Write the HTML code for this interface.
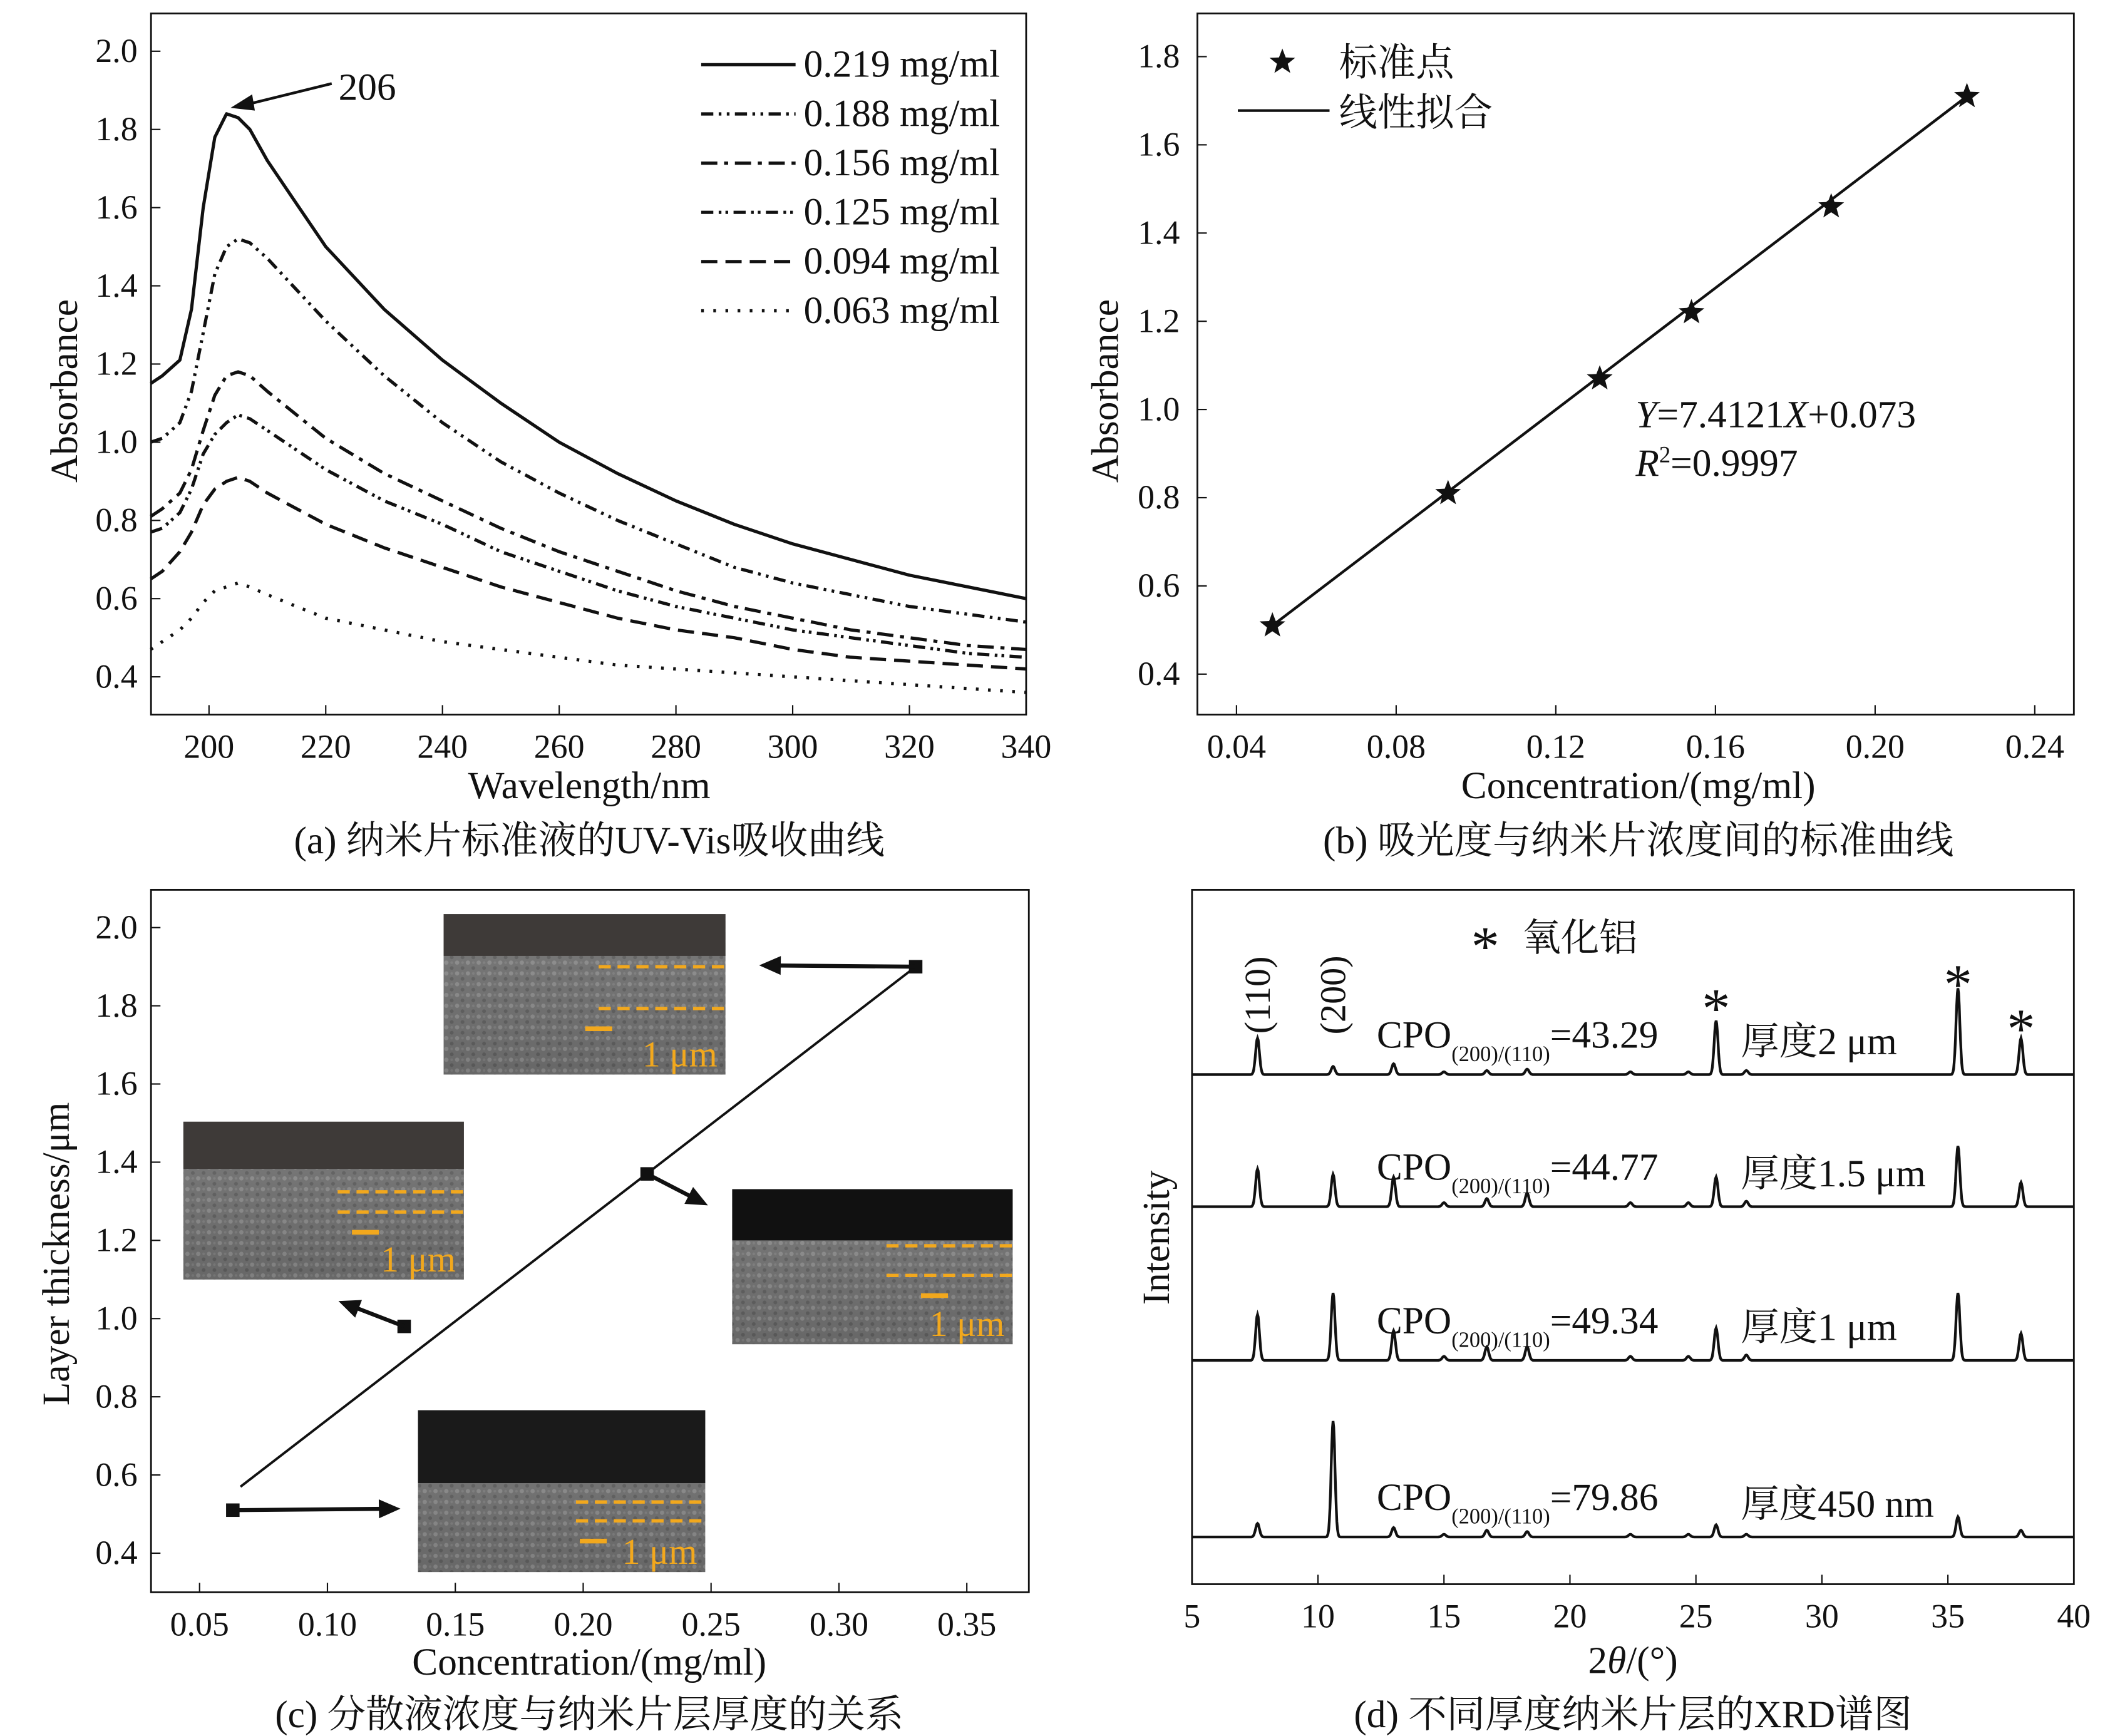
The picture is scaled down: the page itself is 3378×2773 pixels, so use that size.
<!DOCTYPE html>
<html><head><meta charset="utf-8">
<style>
html,body{margin:0;padding:0;background:#fff}
svg{display:block}
text{font-family:"Liberation Serif","Noto Serif CJK SC",serif;fill:#111}
</style></head>
<body>
<svg id="fig" xmlns="http://www.w3.org/2000/svg" width="3378" height="2773" viewBox="-1 0 1568.5 1287.6" preserveAspectRatio="none">
<defs>
<linearGradient id="semG" x1="0" y1="0" x2="0" y2="1">
<stop offset="0" stop-color="#8a8a8a"/><stop offset="1" stop-color="#5e5e5e"/></linearGradient>
<pattern id="tex" width="8" height="8" patternUnits="userSpaceOnUse">
<rect width="8" height="8" fill="#6f6f6f"/><circle cx="2" cy="2" r="1.6" fill="#9a9a9a"/><circle cx="6" cy="6" r="1.4" fill="#505050"/><circle cx="6" cy="2" r="1" fill="#858585"/></pattern>
</defs>
<g id="pa"></g>
<g id="pb"></g>
<g id="pc"></g>
<g id="pd"></g>
</svg>
<script>
// ---------- Panel (a) data ----------
const aWave = [190,192,195,197,199,201,203,205,207,210,215,220,230,240,250,260,270,280,290,300,310,320,330,340];
const aLabels = ["0.219 mg/ml","0.188 mg/ml","0.156 mg/ml","0.125 mg/ml","0.094 mg/ml","0.063 mg/ml"];
const aS1 = [1.15,1.17,1.21,1.34,1.60,1.78,1.84,1.83,1.80,1.72,1.61,1.50,1.34,1.21,1.10,1.00,0.92,0.85,0.79,0.74,0.70,0.66,0.63,0.60];
const aS2 = [1.00,1.01,1.05,1.13,1.28,1.43,1.50,1.52,1.51,1.47,1.39,1.31,1.17,1.05,0.95,0.87,0.80,0.74,0.68,0.64,0.61,0.58,0.56,0.54];
const aS3 = [0.81,0.83,0.87,0.93,1.03,1.12,1.17,1.18,1.17,1.13,1.07,1.01,0.92,0.85,0.78,0.72,0.67,0.62,0.58,0.55,0.52,0.50,0.48,0.47];
const aS4 = [0.77,0.78,0.82,0.88,0.97,1.02,1.05,1.07,1.06,1.03,0.98,0.93,0.85,0.79,0.72,0.67,0.62,0.58,0.55,0.52,0.50,0.48,0.46,0.45];
const aS5 = [0.65,0.67,0.72,0.77,0.84,0.88,0.90,0.91,0.90,0.87,0.83,0.79,0.73,0.68,0.63,0.59,0.55,0.52,0.50,0.47,0.45,0.44,0.43,0.42];
const aS6 = [0.47,0.49,0.52,0.55,0.59,0.62,0.63,0.64,0.63,0.61,0.58,0.55,0.52,0.49,0.47,0.45,0.43,0.42,0.41,0.40,0.39,0.38,0.37,0.36];
const aXTicks = [200,220,240,260,280,300,320,340];
const aYTicks = [0.4,0.6,0.8,1.0,1.2,1.4,1.6,1.8,2.0];
// ---------- Panel (b) data ----------
const bConc = [0.049,0.093,0.131,0.154,0.189,0.223];
const bAbs = [0.51,0.81,1.07,1.22,1.46,1.71];
const bXTicks = [0.04,0.08,0.12,0.16,0.20,0.24];
const bYTicks = [0.4,0.6,0.8,1.0,1.2,1.4,1.6,1.8];
// ---------- Panel (c) data ----------
const cConc = [0.063,0.130,0.225,0.330];
const cThick = [0.51,0.98,1.37,1.90];
const cLine = [[0.066,0.57],[0.330,1.90]];
const cXTicks = [0.05,0.10,0.15,0.20,0.25,0.30,0.35];
const cYTicks = [0.4,0.6,0.8,1.0,1.2,1.4,1.6,1.8,2.0];
// ---------- Panel (d) data ----------
const dPeakPos = [7.6,10.6,13.0,15.0,16.7,18.3,22.4,24.7,25.8,27.0,35.4,37.9];
const dH1 = [27,6,8,2,3,4,2,2,40,3,64,27];
const dH2 = [28,24,22,3,6,10,3,3,22,4,45,18];
const dH3 = [34,50,22,3,10,10,3,3,24,4,50,20];
const dH4 = [10,86,7,2,5,4,2,2,9,2,15,5];
const dCPO = ["43.29","44.77","49.34","79.86"];
const dThickLbl = ["厚度2 μm","厚度1.5 μm","厚度1 μm","厚度450 nm"];
const dXTicks = [5,10,15,20,25,30,35,40];

const FT=25, FL=28.5, FC=28.5;
const NS="http://www.w3.org/2000/svg";
function mk(parent,tag,attrs,txt){const e=document.createElementNS(NS,tag);for(const k in attrs)e.setAttribute(k,attrs[k]);if(txt!==undefined)e.textContent=txt;parent.appendChild(e);return e;}
function frame(g,x0,y0,x1,y1){const r=mk(g,'rect',{x:x0,y:y0,width:x1-x0,height:y1-y0,fill:'none',stroke:'#111','stroke-width':1.3});

}

// ===== Panel A =====
(function(){
const g=document.getElementById('pa');
const X=v=>154+(v-200)*(760-154)/140, Y=v=>38+(2.0-v)*(502-38)/1.6;
frame(g,111,10,760,530);
aXTicks.forEach(t=>{const l=mk(g,'line',{x1:X(t),x2:X(t),y1:530,y2:523,stroke:'#111'});


const tx=mk(g,'text',{x:X(t),y:562,'font-size':FT,'text-anchor':'middle'},t);

});
aYTicks.forEach(t=>{const l=mk(g,'line',{x1:111,x2:118,y1:Y(t),y2:Y(t),stroke:'#111'});


const tx=mk(g,'text',{x:101,y:Y(t)+8,'font-size':FT,'text-anchor':'end'},t.toFixed(1));

});
const xt=mk(g,'text',{x:436,y:592,'font-size':FL,'text-anchor':'middle'},'Wavelength/nm');


const yt=mk(g,'text',{x:56,y:290,'font-size':FL,'text-anchor':'middle',transform:'rotate(-90 56 290)'},'Absorbance');


const series=[aS1,aS2,aS3,aS4,aS5,aS6];
const dashes=['none','9 4 2 4 2 4','12 5 3 5','9 4 2 3 2 4','12 6','2 7'];
series.forEach((s,i)=>{
 const pts=aWave.map((w,j)=>X(w).toFixed(1)+','+Y(s[j]).toFixed(1)).join(' ');
 const p=mk(g,'polyline',{points:pts,fill:'none',stroke:'#111','stroke-width':2.4,'stroke-dasharray':dashes[i],'stroke-linejoin':'round'});
 
 
 const ly=48+i*36.5;
 const ll=mk(g,'line',{x1:519,x2:589,y1:ly,y2:ly,stroke:'#111','stroke-width':2.4,'stroke-dasharray':dashes[i]});
 
 
 const lt=mk(g,'text',{x:595,y:ly+9,'font-size':FL},aLabels[i]);
 
 
});
const ar=mk(g,'line',{x1:245,y1:62,x2:180,y2:78,stroke:'#111','stroke-width':2});


const ah=mk(g,'polygon',{points:'170,80 186,70 188,82',fill:'#111'});


const pl=mk(g,'text',{x:250,y:74,'font-size':FL},'206');


const cap=mk(g,'text',{x:436,y:633,'font-size':FC,'text-anchor':'middle'},'(a) 纳米片标准液的UV-Vis吸收曲线');


})();

function star(g,cx,cy,r){let p=[];for(let i=0;i<10;i++){const a=-Math.PI/2+i*Math.PI/5,rr=i%2?r*0.42:r;p.push((cx+rr*Math.cos(a)).toFixed(1)+','+(cy+rr*Math.sin(a)).toFixed(1));}
return mk(g,'polygon',{points:p.join(' '),fill:'#111'});}

// ===== Panel B =====
(function(){
const g=document.getElementById('pb');
const X=v=>916+(v-0.04)*(1508-916)/0.2, Y=v=>42+(1.8-v)*(500-42)/1.4;
frame(g,887,10,1537,530);
bXTicks.forEach(t=>{const l=mk(g,'line',{x1:X(t),x2:X(t),y1:530,y2:523,stroke:'#111'});


const tx=mk(g,'text',{x:X(t),y:562,'font-size':FT,'text-anchor':'middle'},t.toFixed(2));

});
bYTicks.forEach(t=>{const l=mk(g,'line',{x1:887,x2:894,y1:Y(t),y2:Y(t),stroke:'#111'});


const tx=mk(g,'text',{x:874,y:Y(t)+8,'font-size':FT,'text-anchor':'end'},t.toFixed(1));

});
const xt=mk(g,'text',{x:1214,y:592,'font-size':FL,'text-anchor':'middle'},'Concentration/(mg/ml)');


const yt=mk(g,'text',{x:828,y:290,'font-size':FL,'text-anchor':'middle',transform:'rotate(-90 828 290)'},'Absorbance');


const n=bConc.length;
const fl=mk(g,'line',{x1:X(bConc[0]),y1:Y(bAbs[0]),x2:X(bConc[n-1]),y2:Y(bAbs[n-1]),stroke:'#111','stroke-width':2});


bConc.forEach((c,i)=>{const s=star(g,X(c),Y(bAbs[i]),10);

});
const ls=star(g,950,46,10);


const l1=mk(g,'text',{x:992,y:56,'font-size':FL},'标准点');


const ll=mk(g,'line',{x1:917,x2:985,y1:82,y2:82,stroke:'#111','stroke-width':2});


const l2=mk(g,'text',{x:992,y:93,'font-size':FL},'线性拟合');


const eq=mk(g,'text',{x:1212,y:317,'font-size':FL});
eq.innerHTML='<tspan font-style="italic">Y</tspan>=7.4121<tspan font-style="italic">X</tspan>+0.073';


const r2=mk(g,'text',{x:1212,y:353,'font-size':FL});
r2.innerHTML='<tspan font-style="italic">R</tspan><tspan font-size="17" dy="-10">2</tspan><tspan dy="10">=0.9997</tspan>';


const cap=mk(g,'text',{x:1214,y:633,'font-size':FC,'text-anchor':'middle'},'(b) 吸光度与纳米片浓度间的标准曲线');


})();

// ===== Panel C =====
function sem(g,x,y,w,h,darkH,dashTop,dashBot,scaleX,name){
 const gg=mk(g,'g',{});
 
 
 mk(gg,'rect',{x:x,y:y,width:w,height:h,fill:'url(#tex)'});
 mk(gg,'rect',{x:x,y:y,width:w,height:h,fill:'url(#semG)',opacity:0.45});
 mk(gg,'rect',{x:x,y:y,width:w,height:darkH.h,fill:darkH.c});
 [dashTop,dashBot].forEach(d=>mk(gg,'line',{x1:x+w*0.55,x2:x+w,y1:y+d,y2:y+d,stroke:'#f2a81d','stroke-width':2.5,'stroke-dasharray':'9 5'}));
 mk(gg,'line',{x1:x+scaleX,x2:x+scaleX+20,y1:y+dashBot+15,y2:y+dashBot+15,stroke:'#f2a81d','stroke-width':3.5});
 mk(gg,'text',{x:x+w-6,y:y+h-6,'font-size':27,'text-anchor':'end',style:'fill:#f2a81d'},'1 μm');
}
(function(){
const g=document.getElementById('pc');
const X=v=>147+(v-0.05)*(716-147)/0.3, Y=v=>688+(2.0-v)*(1152-688)/1.6;
frame(g,111,660,762,1181);
cXTicks.forEach(t=>{const l=mk(g,'line',{x1:X(t),x2:X(t),y1:1181,y2:1174,stroke:'#111'});


const tx=mk(g,'text',{x:X(t),y:1213,'font-size':FT,'text-anchor':'middle'},t.toFixed(2));

});
cYTicks.forEach(t=>{const l=mk(g,'line',{x1:111,x2:118,y1:Y(t),y2:Y(t),stroke:'#111'});


const tx=mk(g,'text',{x:101,y:Y(t)+8,'font-size':FT,'text-anchor':'end'},t.toFixed(1));

});
const xt=mk(g,'text',{x:436,y:1242,'font-size':FL,'text-anchor':'middle'},'Concentration/(mg/ml)');


const yt=mk(g,'text',{x:50,y:930,'font-size':FL,'text-anchor':'middle',transform:'rotate(-90 50 930)'},'Layer thickness/μm');


const ln=mk(g,'line',{x1:X(cLine[0][0]),y1:Y(cLine[0][1]),x2:X(cLine[1][0]),y2:Y(cLine[1][1]),stroke:'#111','stroke-width':1.8});


sem(g,328,678,209,119,{h:31,c:'#3e3a38'},39,70,105,'sem-inset-2um');
sem(g,135,832,208,117,{h:35,c:'#3e3a38'},52,67,125,'sem-inset-1um');
sem(g,542,882,208,115,{h:38,c:'#111'},42,64,140,'sem-inset-1-5um');
sem(g,309,1046,213,120,{h:54,c:'#1a1a1a'},68,82,120,'sem-inset-450nm');
cConc.forEach((c,i)=>{const s=mk(g,'rect',{x:X(c)-5,y:Y(cThick[i])-5,width:10,height:10,fill:'#111'});

});
const arrows=[[0,296,1119],[1,250,965],[2,524,894],[3,562,716]];
arrows.forEach(a=>{const x0=X(cConc[a[0]]),y0=Y(cThick[a[0]]),x1=a[1],y1=a[2];
 const ang=Math.atan2(y1-y0,x1-x0),L=16;
 const l=mk(g,'line',{x1:x0,y1:y0,x2:x1-L*0.8*Math.cos(ang),y2:y1-L*0.8*Math.sin(ang),stroke:'#111','stroke-width':3});
 
 
 const p=[x1,y1,x1-L*Math.cos(ang)+7*Math.sin(ang),y1-L*Math.sin(ang)-7*Math.cos(ang),x1-L*Math.cos(ang)-7*Math.sin(ang),y1-L*Math.sin(ang)+7*Math.cos(ang)];
 const h=mk(g,'polygon',{points:p.map(v=>v.toFixed(1)).join(' '),fill:'#111'});
 
 });
const cap=mk(g,'text',{x:436,y:1281,'font-size':FC,'text-anchor':'middle'},'(c) 分散液浓度与纳米片层厚度的关系');


})();

// ===== Panel D =====
(function(){
const g=document.getElementById('pd');
const X=v=>883+(v-5)*(1537-883)/35;
frame(g,883,660,1537,1175);
dXTicks.forEach(t=>{const l=mk(g,'line',{x1:X(t),x2:X(t),y1:1175,y2:1168,stroke:'#111'});


const tx=mk(g,'text',{x:X(t),y:1207,'font-size':FT,'text-anchor':'middle'},t);

});
const xt=mk(g,'text',{x:1210,y:1241,'font-size':FL,'text-anchor':'middle'});
xt.innerHTML='2<tspan font-style="italic">θ</tspan>/(°)';


const yt=mk(g,'text',{x:866,y:918,'font-size':FL,'text-anchor':'middle',transform:'rotate(-90 866 918)'},'Intensity');


const bases=[797,895,1009,1140];
[dH1,dH2,dH3,dH4].forEach((H,k)=>{
 let pts=[];
 for(let t=5;t<=40.001;t+=0.025){let v=0;dPeakPos.forEach((p,i)=>{const d=(t-p)/0.075;v+=H[i]*Math.exp(-d*d/2);});
  pts.push(X(t).toFixed(1)+','+(bases[k]-v).toFixed(1));}
 const pl=mk(g,'polyline',{points:pts.join(' '),fill:'none',stroke:'#111','stroke-width':2});
 
 
 const lbl=mk(g,'text',{x:1020,y:bases[k]-20,'font-size':FL});
 lbl.innerHTML='CPO<tspan font-size="16" dy="10">(200)/(110)</tspan><tspan dy="-10">='+dCPO[k]+'</tspan>';
 
 
 const tl=mk(g,'text',{x:1290,y:bases[k]-15,'font-size':FL},dThickLbl[k]);
 
 
});
[[7.6,'(110)'],[10.6,'(200)']].forEach(a=>{const t=mk(g,'text',{x:X(a[0])+9,y:738,'font-size':27,'text-anchor':'middle',transform:'rotate(-90 '+(X(a[0])+9)+' 738)'},a[1]);
 
 });
[[25.8,740],[35.4,722],[37.9,755]].forEach(a=>{const t=mk(g,'text',{x:X(a[0]),y:a[1]+22,'font-size':42,'text-anchor':'middle'},'*');
 
 });
const lg=mk(g,'text',{x:1090,y:716,'font-size':42},'*');


const lgt=mk(g,'text',{x:1128,y:705,'font-size':FL},'氧化铝');


const cap=mk(g,'text',{x:1210,y:1281,'font-size':FC,'text-anchor':'middle'},'(d) 不同厚度纳米片层的XRD谱图');


})();
</script>
</body></html>
